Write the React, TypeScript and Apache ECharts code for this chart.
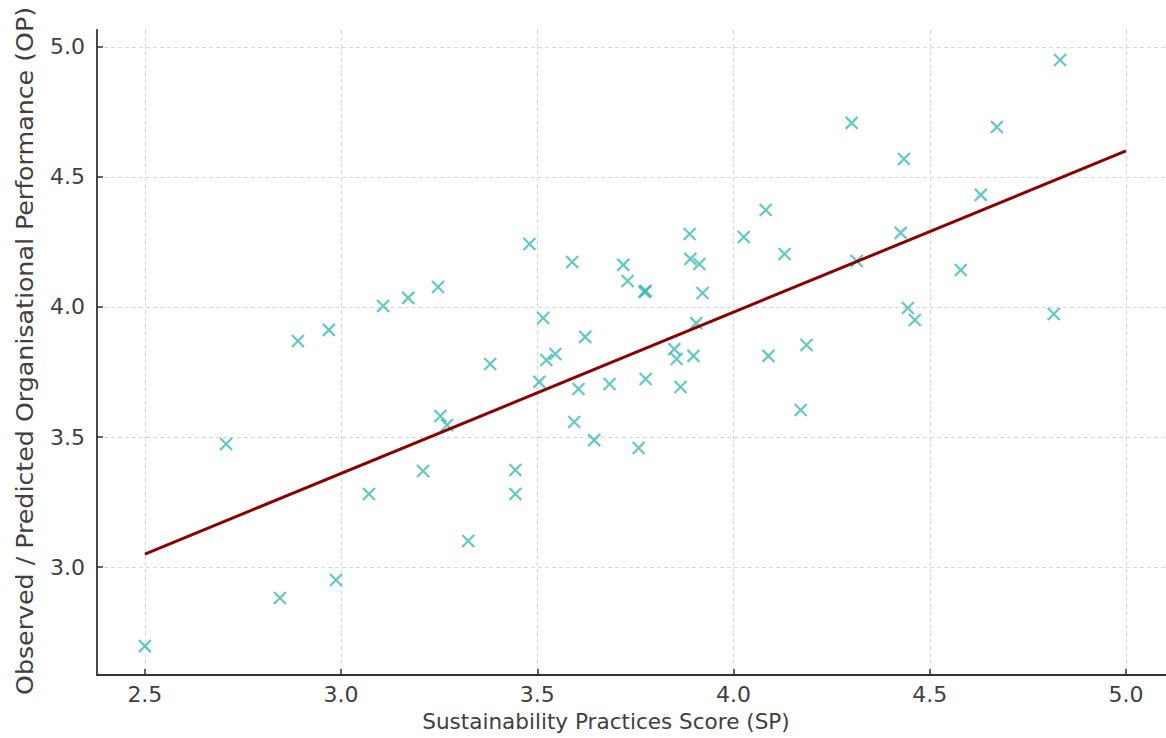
import React, { useEffect, useRef } from "react";
import * as echarts from "echarts";

const spScores: number[] = [
  2.5, 2.707, 2.844, 2.89, 2.969, 2.987, 3.071, 3.107, 3.171, 3.209,
  3.247, 3.253, 3.27, 3.324, 3.38, 3.444, 3.444, 3.48, 3.505, 3.515,
  3.523, 3.546, 3.589, 3.594, 3.605, 3.622, 3.645, 3.684, 3.719, 3.73,
  3.758, 3.773, 3.776, 3.776, 3.849, 3.855, 3.865, 3.888, 3.89, 3.898,
  3.905, 3.913, 3.921, 4.026, 4.082, 4.089, 4.13, 4.171, 4.186, 4.301,
  4.314, 4.426, 4.434, 4.444, 4.462, 4.579, 4.63, 4.671, 4.816, 4.832,
];
const opScores: number[] = [
  2.696, 3.473, 2.881, 3.869, 3.912, 2.95, 3.281, 4.004, 4.035, 3.369,
  4.077, 3.581, 3.546, 3.1, 3.781, 3.373, 3.281, 4.242, 3.712, 3.958,
  3.796, 3.819, 4.173, 3.558, 3.685, 3.885, 3.488, 3.704, 4.162, 4.1,
  3.458, 4.058, 4.062, 3.723, 3.838, 3.8, 3.692, 4.281, 4.185, 3.812,
  3.938, 4.165, 4.054, 4.269, 4.373, 3.812, 4.204, 3.604, 3.854, 4.708,
  4.177, 4.285, 4.569, 3.996, 3.95, 4.142, 4.431, 4.692, 3.973, 4.95,
];
const fitX: number[] = [2.5, 5.0];
const fitY: number[] = [3.05, 4.6];
const xTicks: number[] = [2.5, 3.0, 3.5, 4.0, 4.5, 5.0];
const yTicks: number[] = [3.0, 3.5, 4.0, 4.5, 5.0];
const xTitle = "Sustainability Practices Score (SP)";
const yTitle = "Observed / Predicted Organisational Performance (OP)";

const FONT = "DejaVu Sans";
const TEXT = "#404040";
const SPINE = "#333333";

export default function App() {
  const ref = useRef<HTMLDivElement>(null);
  useEffect(() => {
    if (!ref.current) return;
    const chart = echarts.init(ref.current, null, { renderer: "svg" });
    const grid = { color: "#d9d9d9", width: 1, type: [4, 3] as number[] };
    chart.setOption({
      animation: false,
      backgroundColor: "#ffffff",
      grid: { left: 97, right: 0, top: 30, bottom: 63, containLabel: false },
      xAxis: {
        type: "value",
        min: 2.378,
        max: 5.102,
        axisLine: { show: true, lineStyle: { color: SPINE, width: 1.8 } },
        axisTick: {
          show: true,
          inside: true,
          length: 6,
          customValues: xTicks,
          lineStyle: { color: SPINE, width: 1.5 },
        },
        axisLabel: {
          customValues: xTicks,
          formatter: (v: number) => v.toFixed(1),
          margin: 8,
          fontFamily: FONT,
          fontSize: 22,
          color: TEXT,
        },
        splitLine: { show: true, lineStyle: grid },
      },
      yAxis: {
        type: "value",
        min: 2.585,
        max: 5.065,
        axisLine: { show: true, lineStyle: { color: SPINE, width: 1.8 } },
        axisTick: {
          show: true,
          inside: true,
          length: 6,
          customValues: yTicks,
          lineStyle: { color: SPINE, width: 1.5 },
        },
        axisLabel: {
          customValues: yTicks,
          formatter: (v: number) => v.toFixed(1),
          margin: 12,
          fontFamily: FONT,
          fontSize: 22,
          color: TEXT,
        },
        splitLine: { show: true, lineStyle: grid },
      },
      graphic: [
        {
          type: "text",
          x: 606,
          y: 721,
          scaleX: 0.98,
          style: {
            text: xTitle,
            font: `22px "${FONT}"`,
            fill: TEXT,
            textAlign: "center",
            textVerticalAlign: "middle",
          },
        },
        {
          type: "text",
          x: 25,
          y: 351,
          rotation: Math.PI / 2,
          scaleX: 1.1,
          style: {
            text: yTitle,
            font: `23px "${FONT}"`,
            fill: TEXT,
            textAlign: "center",
            textVerticalAlign: "middle",
          },
        },
      ],
      series: [
        {
          type: "scatter",
          data: spScores.map((x, i) => [x, opScores[i]]),
          symbol: "path://M0,0L10,10M10,0L0,10",
          symbolSize: 12,
          itemStyle: {
            color: "rgba(0,0,0,0)",
            borderColor: "#20b2aa",
            borderWidth: 2.2,
            opacity: 0.7,
          },
          z: 2,
        },
        {
          type: "line",
          data: fitX.map((x, i) => [x, fitY[i]]),
          showSymbol: false,
          symbol: "none",
          lineStyle: { color: "#8b0000", width: 3 },
          z: 3,
        },
      ],
    });
    return () => chart.dispose();
  }, []);
  return (
    <div
      ref={ref}
      style={{ position: "fixed", left: 0, top: 0, width: 1166, height: 738 }}
    />
  );
}
